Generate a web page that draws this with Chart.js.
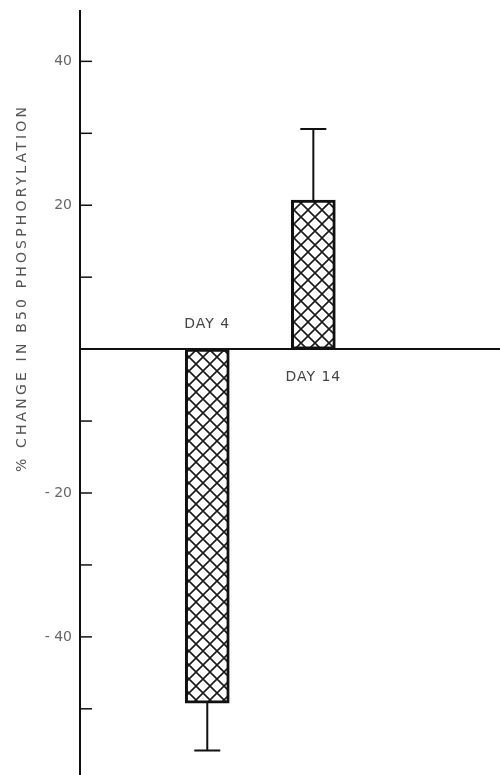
<!DOCTYPE html>
<html>
<head>
<meta charset="utf-8">
<script src="https://cdn.jsdelivr.net/npm/chart.js@4/dist/chart.umd.min.js"></script>
<style>
  html, body { margin: 0; padding: 0; background: #fff; }
  #wrap { width: 500px; height: 775px; position: relative; }
</style>
</head>
<body>
<div id="wrap"><canvas id="chart"></canvas></div>
<script>
// data
const dayLabels = ["DAY 4", "DAY 14"];
const days = [4, 14];
const changes = [-49.2, 20.7];      // % change, bar value
const errorEnds = [-55.8, 30.6];    // end of the error whisker
const yTickLabels = { 40: "40", 20: "20", "-20": "- 20", "-40": "- 40" };
const axisTitle = "% CHANGE IN B50 PHOSPHORYLATION";

// cross hatch fill
function hatch() {
    const c = document.createElement("canvas");
    c.width = 14; c.height = 14;
    const g = c.getContext("2d");
    g.fillStyle = "#fff";
    g.fillRect(0, 0, 14, 14);
    g.strokeStyle = "#1a1a1a";
    g.lineWidth = 1.6;
    g.beginPath();
    g.moveTo(0, 0); g.lineTo(14, 14);
    g.moveTo(14, 0); g.lineTo(0, 14);
    g.stroke();
    return g.createPattern(c, "repeat");
}

const extras = {
    id: "extras",
    afterDatasetsDraw(chart) {
        const ctx = chart.ctx;
        const x = chart.scales.x, y = chart.scales.y;
        const area = chart.chartArea;
        ctx.save();
        ctx.strokeStyle = "#111";
        // zero line
        ctx.lineWidth = 2;
        ctx.beginPath();
        ctx.moveTo(area.left, y.getPixelForValue(0));
        ctx.lineTo(chart.width, y.getPixelForValue(0));
        ctx.stroke();
        // tick marks, pointing inward
        ctx.lineWidth = 1.5;
        for (let v = -50; v <= 40; v += 10) {
            if (v === 0) continue;
            const py = y.getPixelForValue(v);
            ctx.beginPath();
            ctx.moveTo(area.left, py);
            ctx.lineTo(area.left + 12, py);
            ctx.stroke();
        }
        // error whiskers
        ctx.lineWidth = 2;
        days.forEach((d, i) => {
            const px = x.getPixelForValue(d);
            const y0 = y.getPixelForValue(changes[i]);
            const y1 = y.getPixelForValue(errorEnds[i]);
            ctx.beginPath();
            ctx.moveTo(px, y0); ctx.lineTo(px, y1);
            ctx.moveTo(px - 13, y1); ctx.lineTo(px + 13, y1);
            ctx.stroke();
        });
        // category labels
        ctx.fillStyle = "#444";
        ctx.font = "14px 'DejaVu Sans'";
        ctx.letterSpacing = "1px";
        ctx.textAlign = "center";
        ctx.textBaseline = "middle";
        days.forEach((d, i) => {
            const px = x.getPixelForValue(d);
            const py = changes[i] < 0 ? y.getPixelForValue(0) - 25 : y.getPixelForValue(0) + 28;
            ctx.fillText(dayLabels[i], px, py);
        });
        // axis title
        ctx.translate(22, 288);
        ctx.rotate(-Math.PI / 2);
        ctx.font = "14px 'DejaVu Sans'";
        ctx.letterSpacing = "0px";
        const w = ctx.measureText(axisTitle).width;
        ctx.letterSpacing = ((365 - w) / (axisTitle.length - 1)).toFixed(2) + "px";
        ctx.fillStyle = "#555";
        ctx.fillText(axisTitle, 0, 0);
        ctx.restore();
    }
};

new Chart(document.getElementById("chart"), {
    type: "bar",
    data: {
        datasets: [{
            data: days.map((d, i) => ({ x: d, y: changes[i] })),
            backgroundColor: hatch(),
            borderColor: "#111",
            borderWidth: 3,
            borderSkipped: false,
            barThickness: 44
        }]
    },
    options: {
        responsive: true,
        maintainAspectRatio: false,
        animation: false,
        layout: { padding: { top: 11, left: 0, right: 0, bottom: 0 } },
        plugins: { legend: { display: false }, tooltip: { enabled: false } },
        scales: {
            x: { type: "linear", min: -8, max: 31.6, offset: false, display: false },
            y: {
                min: -59.2, max: 47,
                ticks: {
                    stepSize: 10,
                    color: "#666",
                    font: { family: "'DejaVu Sans'", size: 14 },
                    padding: 0,
                    callback: v => yTickLabels[v] || ""
                },
                grid: { display: false },
                border: { display: true, color: "#111", width: 2 },
                afterFit: s => { s.width = 80; s.paddingTop = 0; s.paddingBottom = 0; }
            }
        }
    },
    plugins: [extras]
});
</script>
</body>
</html>
